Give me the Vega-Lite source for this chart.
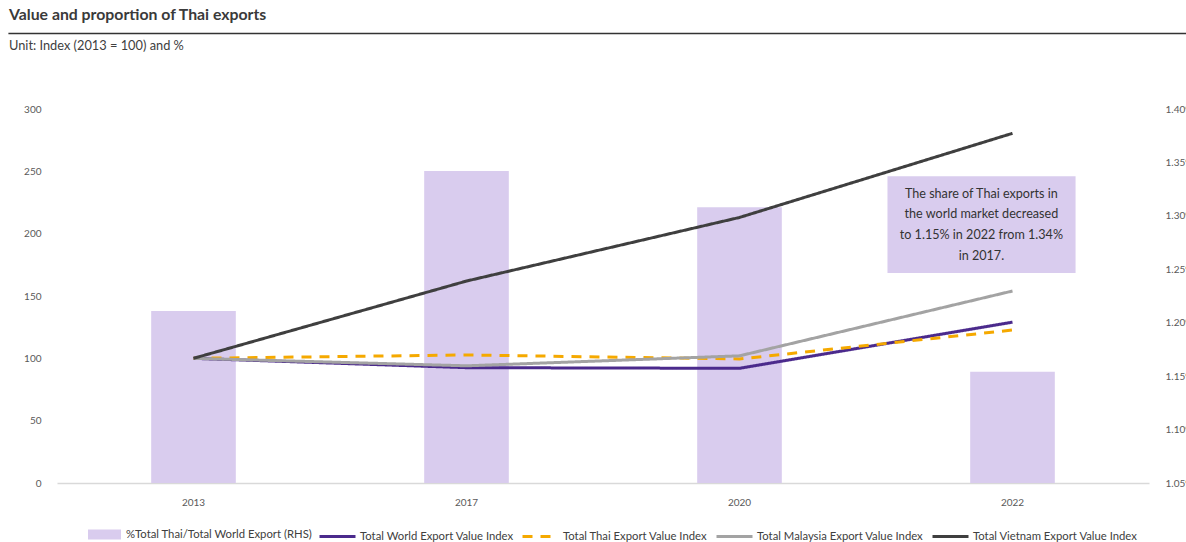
{
  "$schema": "https://vega.github.io/schema/vega-lite/v6.json",
  "width": 1092,
  "height": 374,
  "autosize": {"type": "none"},
  "padding": {"left": 57, "top": 109, "right": 37, "bottom": 59},
  "background": "white",
  "config": {
    "font": "Lato",
    "view": {"stroke": null}
  },
  "title": {
    "text": "Value and proportion of Thai exports",
    "subtitle": "Unit: Index (2013 = 100) and %",
    "anchor": "start",
    "frame": "group",
    "dx": -48,
    "offset": -21,
    "fontSize": 15.8,
    "fontWeight": "bold",
    "color": "#3a3a3a",
    "subtitleFontSize": 12.8,
    "subtitleColor": "#404040",
    "subtitlePadding": 16
  },
  "datasets": {
    "share": [
      {"year": "2013", "series": "%Total Thai/Total World Export (RHS)", "share": 1.211},
      {"year": "2017", "series": "%Total Thai/Total World Export (RHS)", "share": 1.342},
      {"year": "2020", "series": "%Total Thai/Total World Export (RHS)", "share": 1.308},
      {"year": "2022", "series": "%Total Thai/Total World Export (RHS)", "share": 1.154}
    ],
    "index": [
      {"year": "2013", "series": "Total World Export Value Index", "value": 100},
      {"year": "2017", "series": "Total World Export Value Index", "value": 92.5},
      {"year": "2020", "series": "Total World Export Value Index", "value": 92},
      {"year": "2022", "series": "Total World Export Value Index", "value": 129},
      {"year": "2013", "series": "Total Thai Export Value Index", "value": 100},
      {"year": "2017", "series": "Total Thai Export Value Index", "value": 102.7},
      {"year": "2020", "series": "Total Thai Export Value Index", "value": 99.5},
      {"year": "2022", "series": "Total Thai Export Value Index", "value": 122.7},
      {"year": "2013", "series": "Total Malaysia Export Value Index", "value": 100},
      {"year": "2017", "series": "Total Malaysia Export Value Index", "value": 94},
      {"year": "2020", "series": "Total Malaysia Export Value Index", "value": 102},
      {"year": "2022", "series": "Total Malaysia Export Value Index", "value": 154},
      {"year": "2013", "series": "Total Vietnam Export Value Index", "value": 100},
      {"year": "2017", "series": "Total Vietnam Export Value Index", "value": 162},
      {"year": "2020", "series": "Total Vietnam Export Value Index", "value": 213},
      {"year": "2022", "series": "Total Vietnam Export Value Index", "value": 280.5}
    ],
    "note": [
      {"year": "2022", "top": 246, "bottom": 168.5, "mid": 232,
       "text": ["The share of Thai exports in", "the world market decreased", "to 1.15% in 2022 from 1.34%", "in 2017."]}
    ],
    "rule": [
      {"level": 360.5}
    ]
  },
  "layer": [
    {
      "data": {"name": "share"},
      "mark": {"type": "bar", "width": {"band": 0.31}},
      "encoding": {
        "x": {
          "field": "year", "type": "ordinal",
          "scale": {"paddingInner": 0, "paddingOuter": 0},
          "axis": {
            "title": null, "labelAngle": 0, "ticks": false,
            "domainColor": "#d9d9d9", "domainWidth": 1.5,
            "labelPadding": 14, "labelFontSize": 10, "labelColor": "#595959"
          }
        },
        "y": {
          "field": "share", "type": "quantitative",
          "scale": {"domain": [1.05, 1.40], "zero": false, "nice": false},
          "axis": {
            "orient": "right", "title": null, "grid": false, "domain": false, "ticks": false,
            "values": [1.05, 1.10, 1.15, 1.20, 1.25, 1.30, 1.35, 1.40],
            "labelExpr": "format(datum.value, '.2f') + '%'",
            "labelPadding": 16, "labelFontSize": 10, "labelColor": "#595959"
          }
        },
        "y2": {"datum": 1.05},
        "fill": {
          "field": "series", "type": "nominal",
          "scale": {"range": ["#d9ccee"]},
          "legend": {
            "title": null, "orient": "none", "legendX": 30, "legendY": 408,
            "symbolType": "M-1,-0.3H1V0.3H-1Z", "symbolSize": 1089,
            "labelFontSize": 11.3, "labelColor": "#404040", "labelOffset": 4, "labelLimit": 400
          }
        }
      }
    },
    {
      "layer": [
        {
          "data": {"name": "index"},
          "mark": {"type": "line", "strokeWidth": 3, "strokeCap": "butt"},
          "encoding": {
            "x": {"field": "year", "type": "ordinal"},
            "y": {
              "field": "value", "type": "quantitative",
              "scale": {"domain": [0, 300], "nice": false},
              "axis": {
                "orient": "left", "title": null, "grid": false, "domain": false, "ticks": false,
                "values": [0, 50, 100, 150, 200, 250, 300],
                "labelPadding": 16, "labelFontSize": 10, "labelColor": "#595959"
              }
            },
            "stroke": {
              "field": "series", "type": "nominal",
              "scale": {
                "domain": ["Total World Export Value Index", "Total Thai Export Value Index", "Total Malaysia Export Value Index", "Total Vietnam Export Value Index"],
                "range": ["#4b2a8c", "#f5a900", "#a3a3a3", "#3f3f3f"]
              },
              "legend": {
                "title": null, "orient": "none", "direction": "horizontal", "legendX": 261, "legendY": 408,
                "symbolType": "stroke", "symbolSize": 1296, "symbolStrokeWidth": 3,
                "labelFontSize": 11.3, "labelColor": "#404040", "labelOffset": 3, "labelLimit": 400,
                "columnPadding": 2, "gridAlign": "none"
              }
            },
            "strokeDash": {
              "field": "series", "type": "nominal",
              "scale": {
                "domain": ["Total World Export Value Index", "Total Thai Export Value Index", "Total Malaysia Export Value Index", "Total Vietnam Export Value Index"],
                "range": [[1, 0], [10, 8], [1, 0], [1, 0]]
              },
              "legend": {
                "title": null, "orient": "none", "direction": "horizontal", "legendX": 261, "legendY": 408,
                "symbolType": "stroke", "symbolSize": 1296, "symbolStrokeWidth": 3,
                "labelFontSize": 11.3, "labelColor": "#404040", "labelOffset": 3, "labelLimit": 400,
                "columnPadding": 2, "gridAlign": "none"
              }
            }
          }
        },
        {
          "data": {"name": "note"},
          "mark": {"type": "rect", "color": "#d9ccee"},
          "encoding": {
            "x": {"datum": "2022", "type": "ordinal", "bandPosition": 0.042},
            "x2": {"datum": "2022", "bandPosition": 0.731},
            "y": {"field": "top", "type": "quantitative"},
            "y2": {"field": "bottom"}
          }
        },
        {
          "data": {"name": "note"},
          "mark": {"type": "text", "fontSize": 12.6, "color": "#333333", "lineHeight": 20.7, "align": "center", "baseline": "middle"},
          "encoding": {
            "x": {"datum": "2022", "type": "ordinal", "bandPosition": 0.386},
            "y": {"field": "mid", "type": "quantitative"},
            "text": {"field": "text"}
          }
        },
        {
          "data": {"name": "rule"},
          "mark": {"type": "rule", "color": "#333333", "strokeWidth": 1.5},
          "encoding": {
            "x": {"datum": "2013", "type": "ordinal", "bandPosition": -0.178},
            "x2": {"datum": "2022", "bandPosition": 1.14},
            "y": {"field": "level", "type": "quantitative"}
          }
        }
      ]
    }
  ],
  "resolve": {"scale": {"y": "independent"}}
}
